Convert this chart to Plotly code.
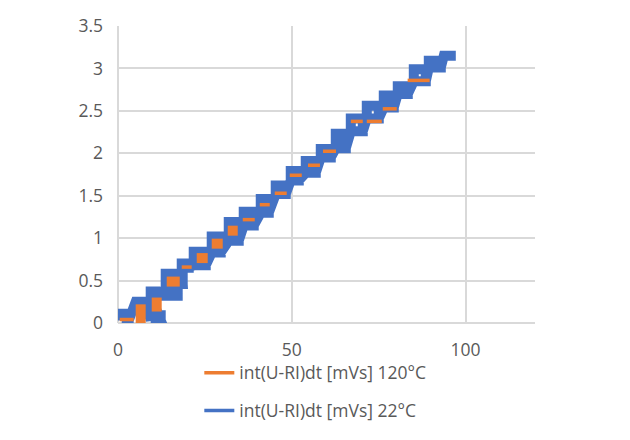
import plotly.graph_objects as go

# ---- data (x in data units, y in data units) ----
# 22°C series: quantised, oscillating signal -> traced as blocks (left, right, low, high)
blue_left  = [1.07, 5.10, 9.41, 9.41, 13.73, 18.34, 21.79, 26.97, 31.87, 36.18, 41.08, 45.39,
              49.71, 54.03, 58.35, 62.67, 66.99, 71.59, 76.48, 80.51, 85.12, 89.44, 93.76]
blue_right = [3.08, 7.97, 12.29, 17.18, 18.62, 20.35, 25.25, 29.56, 34.74, 39.06, 43.38, 48.27,
              52.02, 56.91, 61.23, 65.55, 70.44, 75.04, 79.36, 83.39, 88.57, 92.89, 97.21]
blue_low   = [0.03, 0.25, 0.03, 0.32, 0.46, 0.65, 0.68, 0.83, 0.97, 1.15, 1.30, 1.52,
              1.68, 1.77, 1.95, 2.06, 2.26, 2.41, 2.54, 2.70, 2.85, 3.01, 3.15]
blue_high  = [0.11, 0.25, 0.09, 0.37, 0.58, 0.70, 0.84, 1.02, 1.19, 1.31, 1.46, 1.62,
              1.79, 1.91, 2.05, 2.23, 2.41, 2.56, 2.68, 2.79, 2.99, 3.09, 3.15]

# 120°C series: visible pieces of the step line (segments: x0, x1, y0, y1)
orange_wide_x0 = [6.53, 11.14, 14.02, 22.65, 26.97, 31.58]
orange_wide_x1 = [6.53, 11.14, 17.77, 25.82, 30.14, 34.46]
orange_wide_y0 = [-0.02, 0.135, 0.488, 0.765, 0.935, 1.088]
orange_wide_y1 = [0.22, 0.30, 0.488, 0.765, 0.935, 1.088]

orange_thin_x0 = [0.49, 18.34, 35.90, 40.79, 45.11, 49.42, 54.67, 58.99, 67.00, 71.59, 76.19, 83.35]
orange_thin_x1 = [4.52, 21.21, 39.35, 43.67, 48.56, 52.88, 58.12, 62.74, 70.44, 75.91, 80.22, 89.68]
orange_thin_y  = [0.041, 0.659, 1.218, 1.394, 1.529, 1.741, 1.859, 2.024, 2.376, 2.376, 2.524, 2.859]

series_names = ["int(U-RI)dt [mVs] 120°C", "int(U-RI)dt [mVs] 22°C"]
x_ticks = [0, 50, 100]
y_ticks = [0, 0.5, 1, 1.5, 2, 2.5, 3, 3.5]

BLUE = "#4472C4"
ORANGE = "#ED7D31"

# build blue path (each block traced as a loop, ending at its lower-right corner)
bx, by = [], []
for l, r, lo, hi in zip(blue_left, blue_right, blue_low, blue_high):
    bx += [l, l, r, r, l, r]
    by += [lo, hi, hi, lo, lo, lo]

owx, owy = [], []
for a, b, c, d in zip(orange_wide_x0, orange_wide_x1, orange_wide_y0, orange_wide_y1):
    owx += [a, b, None]
    owy += [c, d, None]

otx, oty = [], []
for a, b, c in zip(orange_thin_x0, orange_thin_x1, orange_thin_y):
    otx += [a, b, None]
    oty += [c, c, None]

fig = go.Figure()
fig.add_trace(go.Scatter(x=bx, y=by, mode="lines", line=dict(color=BLUE, width=10),
                         showlegend=False, legendgroup="b", hoverinfo="skip"))
fig.add_trace(go.Scatter(x=owx, y=owy, mode="lines", line=dict(color=ORANGE, width=10),
                         showlegend=False, legendgroup="o", connectgaps=False, hoverinfo="skip"))
fig.add_trace(go.Scatter(x=otx, y=oty, mode="lines", line=dict(color=ORANGE, width=3.5),
                         showlegend=False, legendgroup="o", connectgaps=False, hoverinfo="skip"))
# legend entries
fig.add_trace(go.Scatter(x=[None], y=[None], mode="lines", line=dict(color=ORANGE, width=3.5),
                         name=series_names[0], legendgroup="o"))
fig.add_trace(go.Scatter(x=[None], y=[None], mode="lines", line=dict(color=BLUE, width=3.5),
                         name=series_names[1], legendgroup="b"))

FONT = "Open Sans, Liberation Sans, sans-serif"
axis_font = dict(family=FONT, size=17.5, color="#595959")
fig.update_layout(
    width=630, height=440,
    margin=dict(l=118.3, r=95, t=26, b=116.5, autoexpand=False),
    paper_bgcolor="white", plot_bgcolor="white",
    font=axis_font,
    showlegend=True,
    legend=dict(orientation="v", x=0.195, xanchor="left", y=-0.107, yanchor="top",
                tracegroupgap=12, font=dict(family=FONT, size=17.5, color="#595959"),
                bgcolor="rgba(0,0,0,0)"),
)
fig.update_xaxes(range=[0, 120], tickvals=x_ticks, showgrid=True, gridcolor="#d9d9d9", gridwidth=1.5,
                 zeroline=True, zerolinecolor="#d9d9d9", zerolinewidth=1.5, showline=False,
                 ticks="", ticklabelstandoff=14, tickfont=axis_font)
fig.update_yaxes(range=[0, 3.5], tickvals=y_ticks, ticktext=[str(v) for v in y_ticks],
                 showgrid=True, gridcolor="#d9d9d9", gridwidth=1.5,
                 zeroline=True, zerolinecolor="#d9d9d9", zerolinewidth=1.5, showline=False,
                 ticks="", ticklabelstandoff=14, tickfont=axis_font)

fig.write_html("out.html")
